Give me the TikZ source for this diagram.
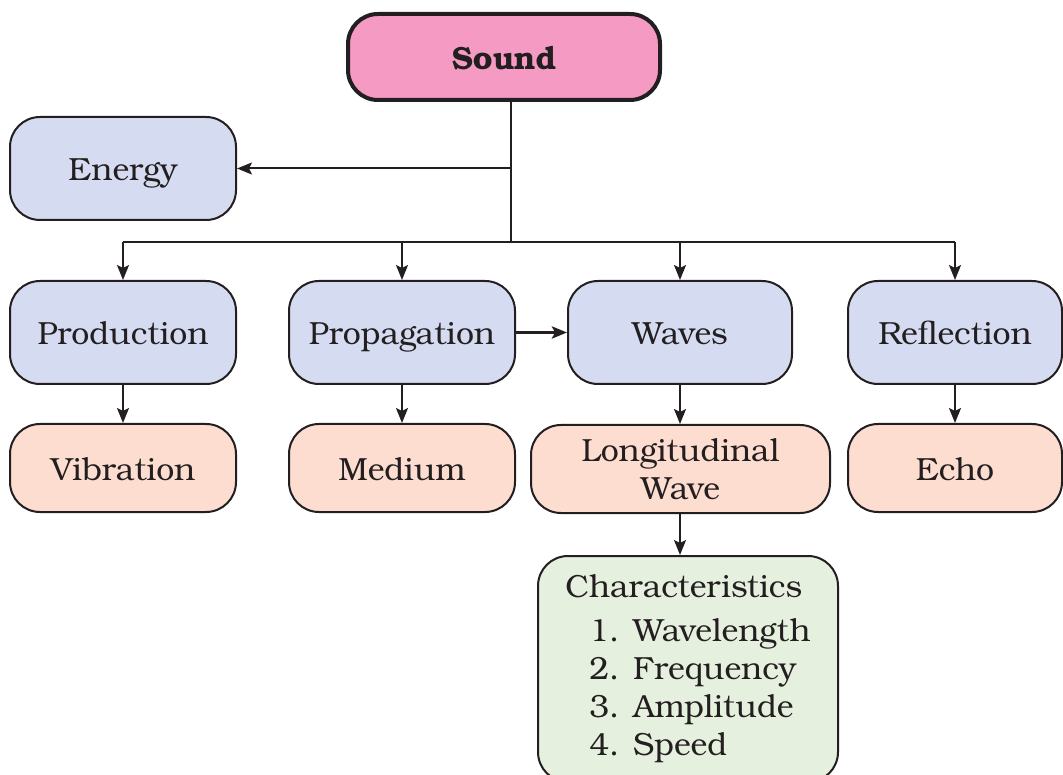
\documentclass[tikz,border=0pt]{standalone}
\usepackage{fontspec}
\setmainfont{TeX Gyre Bonum}
\usetikzlibrary{arrows.meta}
\definecolor{ink}{HTML}{231F20}
\definecolor{pinkfill}{HTML}{F49AC3}
\definecolor{bluefill}{HTML}{D5DBF0}
\definecolor{peachfill}{HTML}{FCDDD0}
\definecolor{greenfill}{HTML}{E6F0DE}
\tikzset{
  box/.style={draw=ink, line width=2pt, rounded corners=30pt, text=ink,
    font=\fontsize{32}{38}\selectfont, inner sep=0pt, align=center},
  oneline/.style={text height=27pt, text depth=2pt},
  bluebox/.style={box, oneline, fill=bluefill, minimum width=226pt, minimum height=103pt},
  peachbox/.style={box, fill=peachfill, minimum height=88pt},
  arr/.style={draw=ink, line width=2pt, -{Stealth[length=15pt,width=12pt,inset=3pt]}},
  lin/.style={draw=ink, line width=2pt},
}
\begin{document}
\begin{tikzpicture}[x=1pt,y=-1pt]
\useasboundingbox (0,0) rectangle (1063,775);
\clip (0,0) rectangle (1063,775);
\node[box, oneline, fill=pinkfill, line width=4pt, minimum width=312pt, minimum height=86pt, font=\fontsize{32}{38}\selectfont\bfseries] (sound) at (504,57) {Sound};
\node[bluebox] (energy) at (123,168.5) {Energy};
\node[bluebox] (prod) at (123,332.5) {Production};
\node[bluebox] (prop) at (402,332.5) {Propagation};
\node[bluebox, minimum width=224pt] (waves) at (680,332.5) {Waves};
\node[bluebox, minimum width=214pt] (refl) at (955,332.5) {Reflection};
\node[peachbox, oneline, minimum width=226pt] (vib) at (123,468) {Vibration};
\node[peachbox, oneline, minimum width=226pt] (med) at (402,468) {Medium};
\node[peachbox, minimum width=299pt] (long) at (680.5,469) {Longitudinal\\Wave};
\node[peachbox, oneline, minimum width=214pt] (echo) at (955,468) {Echo};
\node[box, fill=greenfill, minimum width=300pt, minimum height=226pt] (char) at (688,669)
  {\begin{tabular}{@{}l@{}}Characteristics\\[6pt]
   \hspace*{24pt}1. Wavelength\\ \hspace*{24pt}2. Frequency\\ \hspace*{24pt}3. Amplitude\\ \hspace*{24pt}4. Speed\end{tabular}};
\coordinate (hub) at (511,242);
\draw[lin] (sound.south -| hub) -- (hub);
\draw[arr] (sound.south -| hub) |- (energy.east);
\draw[lin] (prod.north |- hub) -- (refl.north |- hub);
\draw[arr] (prod.north |- hub) -- (prod.north);
\draw[arr] (prop.north |- hub) -- (prop.north);
\draw[arr] (waves.north |- hub) -- (waves.north);
\draw[arr] (refl.north |- hub) -- (refl.north);
\draw[arr] (prod.south) -- (vib.north);
\draw[arr] (prop.south) -- (med.north);
\draw[arr] (waves.south) -- (long.north -| waves.south);
\draw[arr] (refl.south) -- (echo.north);
\draw[arr] (long.south -| waves.south) -- (char.north -| waves.south);
\draw[arr, line width=3pt] (prop.east) -- (waves.west);
\end{tikzpicture}
\end{document}
